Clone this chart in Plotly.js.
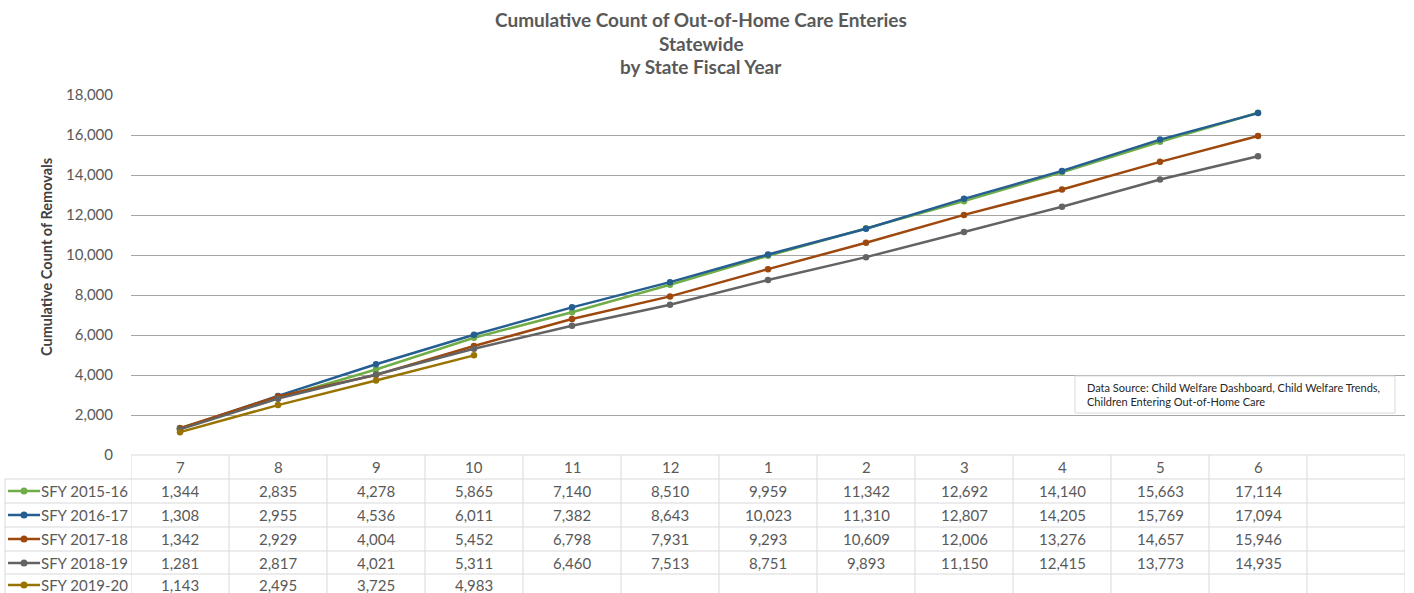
<!DOCTYPE html>
<html><head><meta charset="utf-8">
<script src="https://cdn.plot.ly/plotly-3.0.1.min.js"></script>
<style>html,body{margin:0;padding:0;background:#fff}#chart{width:1414px;height:593px}</style>
</head><body><div id="chart"></div>
<script>
const months = ['7','8','9','10','11','12','1','2','3','4','5','6'];
const seriesNames = ['SFY 2015-16','SFY 2016-17','SFY 2017-18','SFY 2018-19','SFY 2019-20'];
const sfy201516 = [1344,2835,4278,5865,7140,8510,9959,11342,12692,14140,15663,17114];
const sfy201617 = [1308,2955,4536,6011,7382,8643,10023,11310,12807,14205,15769,17094];
const sfy201718 = [1342,2929,4004,5452,6798,7931,9293,10609,12006,13276,14657,15946];
const sfy201819 = [1281,2817,4021,5311,6460,7513,8751,9893,11150,12415,13773,14935];
const sfy201920 = [1143,2495,3725,4983];
const colors = ['#70AD47','#255E91','#9E480E','#636363','#997300'];
const yTicks = [0,2000,4000,6000,8000,10000,12000,14000,16000,18000];
const titleLines = ['Cumulative Count of Out-of-Home Care Enteries','Statewide','by State Fiscal Year'];

const allSeries = [sfy201516,sfy201617,sfy201718,sfy201819,sfy201920];
const W = 1414, H = 593, L = 131, R = 9, T = 95, B = 138;
const pw = W - L - R, ph = H - T - B;
const px2x = p => (p - L) / pw;
const py2y = p => (H - B - p) / ph;
const FONT = 'Lato, "Open Sans", sans-serif';
const TXT = '#595959';
const nCols = months.length + 1;

const traces = allSeries.map((s, i) => ({
  type: 'scatter', mode: 'lines+markers', name: seriesNames[i],
  x: s.map((v, k) => k), y: s,
  line: {color: colors[i], width: 2.5},
  marker: {color: colors[i], size: 6.5},
  hoverinfo: 'x+y+name'
}));

const shapes = [], annotations = [];
const rowTop = [455, 479, 503, 527, 551, 574, 598];
const gridCol = '#d9d9d9';
shapes.push({type:'line', xref:'x', yref:'paper', x0:-0.5, x1:nCols-0.5, y0:py2y(455), y1:py2y(455), line:{color:gridCol,width:1}});
for (let r = 1; r < rowTop.length; r++) {
  shapes.push({type:'line', xref:'paper', yref:'paper', x0:px2x(5), x1:px2x(L+pw), y0:py2y(rowTop[r]), y1:py2y(rowTop[r]), line:{color:gridCol,width:1}});
}
for (let c = 0; c <= nCols; c++) {
  shapes.push({type:'line', xref:'x', yref:'paper', x0:c-0.5, x1:c-0.5, y0:py2y(455), y1:py2y(600), line:{color:gridCol,width:1}});
}
shapes.push({type:'line', xref:'paper', yref:'paper', x0:px2x(5), x1:px2x(5), y0:py2y(479), y1:py2y(600), line:{color:gridCol,width:1}});

months.forEach((m, k) => annotations.push({xref:'x', yref:'paper', x:k, y:py2y(467), text:m, showarrow:false, font:{family:FONT,size:15,color:TXT}, xanchor:'center', yanchor:'middle'}));

const rowCenters = [491, 515, 539, 563, 585];
allSeries.forEach((s, i) => {
  const cy = py2y(rowCenters[i]);
  s.forEach((v, k) => annotations.push({xref:'x', yref:'paper', x:k, y:cy, text:v.toLocaleString('en-US'), showarrow:false, font:{family:FONT,size:15,color:TXT}, xanchor:'center', yanchor:'middle'}));
  shapes.push({type:'line', xref:'paper', yref:'paper', x0:px2x(8), x1:px2x(40), y0:cy, y1:cy, line:{color:colors[i], width:2.5}});
  shapes.push({type:'circle', xref:'paper', yref:'paper', x0:px2x(20.5), x1:px2x(27.5), y0:cy-3.5/ph, y1:cy+3.5/ph, fillcolor:colors[i], line:{color:colors[i], width:0}});
  annotations.push({xref:'paper', yref:'paper', x:px2x(39), y:cy, text:seriesNames[i], showarrow:false, font:{family:FONT,size:15,color:TXT}, xanchor:'left', yanchor:'middle'});
});

// title lines
[19, 43, 66].forEach((py, i) => annotations.push({xref:'paper', yref:'paper', x:px2x(701), y:py2y(py), text:'<b>'+titleLines[i]+'</b>', showarrow:false, font:{family:FONT,size:19,color:TXT}, xanchor:'center', yanchor:'middle'}));

// y axis title
annotations.push({xref:'paper', yref:'paper', x:px2x(46), y:py2y(257), text:'<b>Cumulative Count of Removals</b>', textangle:-90, showarrow:false, font:{family:FONT,size:14.5,color:'#404040'}, xanchor:'center', yanchor:'middle'});

// data source box
shapes.push({type:'rect', xref:'paper', yref:'paper', x0:px2x(1075), x1:px2x(1395), y0:py2y(376), y1:py2y(413), fillcolor:'#fff', line:{color:'#d9d9d9', width:1}, layer:'above'});
annotations.push({xref:'paper', yref:'paper', x:px2x(1085), y:py2y(394.5), xanchor:'left', yanchor:'middle', align:'left', showarrow:false,
  text:'Data Source: Child Welfare Dashboard, Child Welfare Trends,<br>Children Entering Out-of-Home Care',
  font:{family:FONT,size:11,color:'#262626'}});

const layout = {
  width: W, height: H,
  margin: {l:L, r:R, t:T, b:B},
  paper_bgcolor:'#fff', plot_bgcolor:'#fff',
  showlegend:false,
  xaxis: {range:[-0.5, nCols-0.5], showticklabels:false, showgrid:false, zeroline:false, showline:false, fixedrange:true},
  yaxis: {range:[0,18000], tickvals:yTicks, ticktext:yTicks.map(v=>v.toLocaleString('en-US')), showgrid:true, gridcolor:'#a6a6a6', gridwidth:1,
    zeroline:false, showline:false, ticks:'', ticklabelstandoff:17, tickfont:{family:FONT,size:15,color:TXT}},
  shapes, annotations,
  font:{family:FONT}
};
Plotly.newPlot('chart', traces, layout, {displayModeBar:false, staticPlot:true});
</script></body></html>
